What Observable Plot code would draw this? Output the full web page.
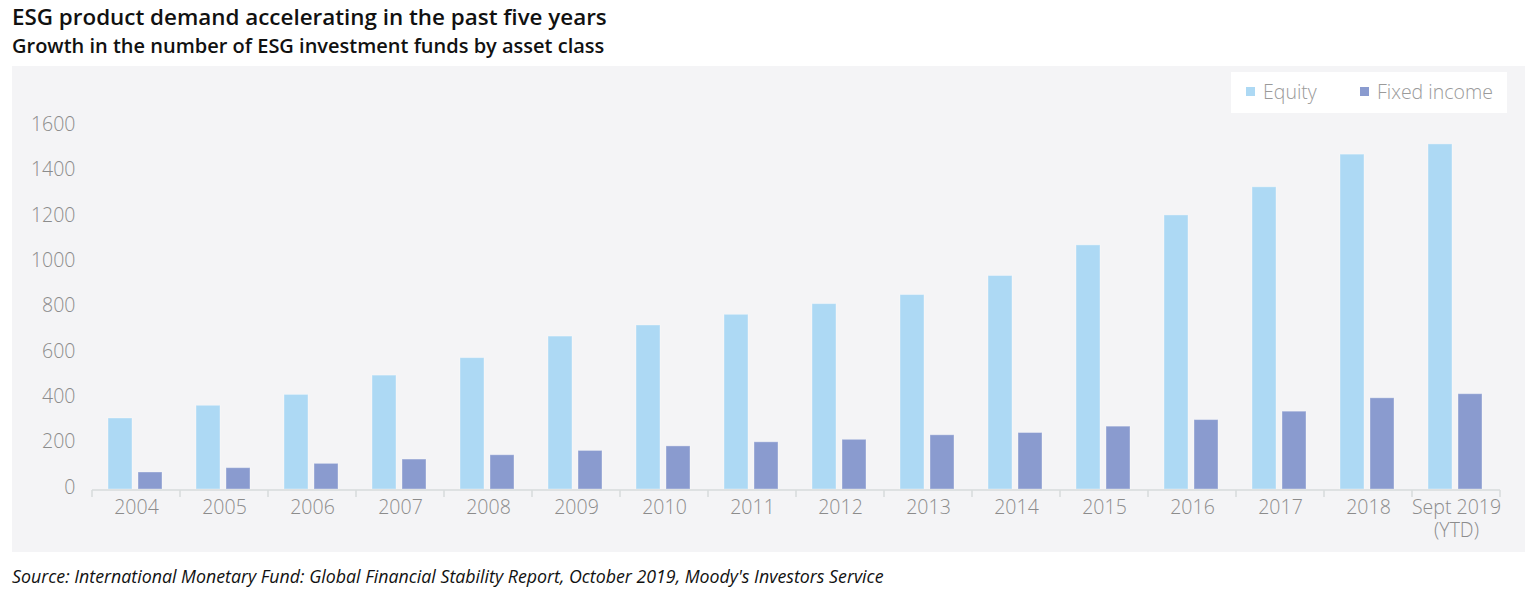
<!DOCTYPE html>
<html>
<head>
<meta charset="utf-8">
<script src="https://cdn.jsdelivr.net/npm/d3@7"></script>
<script src="https://cdn.jsdelivr.net/npm/@observablehq/plot@0.6"></script>
<style>
  body { margin: 0; background: #ffffff; font-family: "Open Sans", sans-serif; }
  #wrap { position: relative; width: 1537px; height: 595px; }
  #title { position: absolute; left: 12px; top: 1px; font-size: 22.4px; font-weight: 600; color: #111; white-space: nowrap; }
  #subtitle { position: absolute; left: 12px; top: 32px; font-size: 20px; font-weight: 600; color: #111; white-space: nowrap; }
  #chart { position: absolute; left: 12px; top: 66px; }
  #legend { position: absolute; left: 1231px; top: 72px; width: 276px; height: 41px; background: #ffffff; color: #9a9a9a; font-size: 19.5px; font-weight: 300; }
  #legend .item { position: absolute; top: 6px; white-space: nowrap; }
  #legend .sw { display: inline-block; width: 9px; height: 9px; margin-right: 8px; vertical-align: 3px; }
  #source { position: absolute; left: 12px; top: 564px; font-size: 17.8px; font-style: italic; color: #111; white-space: nowrap; }
</style>
</head>
<body>
<div id="wrap">
  <div id="title">ESG product demand accelerating in the past five years</div>
  <div id="subtitle">Growth in the number of ESG investment funds by asset class</div>
  <div id="chart"></div>
  <div id="legend"></div>
  <div id="source">Source: International Monetary Fund: Global Financial Stability Report, October 2019, Moody's Investors Service</div>
</div>
<script>
const years = ["2004", "2005", "2006", "2007", "2008", "2009", "2010", "2011", "2012", "2013", "2014", "2015", "2016", "2017", "2018", "Sept 2019\n(YTD)"];
const equity = [313, 369, 417, 502, 579, 674, 723, 770, 817, 857, 941, 1076, 1208, 1332, 1476, 1521];
const fixedIncome = [75, 94, 113, 132, 151, 170, 190, 208, 219, 239, 249, 277, 306, 343, 402, 420];
const yTicks = [0, 200, 400, 600, 800, 1000, 1200, 1400, 1600];
const seriesNames = ["Equity", "Fixed income"];
const seriesColors = ["#add9f4", "#8a9bcf"];

const data = years.map((year, i) => ({year, equity: equity[i], fixed: fixedIncome[i]}));

const boundaryTicks = (index, scales, values, dimensions) => {
  const x = scales.x, y = scales.y;
  const dom = x.domain();
  const bw = x.bandwidth ? x.bandwidth() : (x(dom[1]) - x(dom[0]));
  const y0 = y(0);
  const g = d3.create("svg:g");
  const left = x(dom[0]), right = x(dom[dom.length - 1]) + bw;
  g.append("line").attr("x1", left).attr("x2", right).attr("y1", y0 + 1).attr("y2", y0 + 1)
    .attr("stroke", "#d7dbdb").attr("stroke-width", 1.5);
  const edges = dom.map(d => x(d)).concat([right]);
  for (const e of edges) {
    g.append("line").attr("x1", e).attr("x2", e).attr("y1", y0 + 1).attr("y2", y0 + 8)
      .attr("stroke", "#d7dbdb").attr("stroke-width", 1.5);
  }
  return g.node();
};

const plot = Plot.plot({
  width: 1513,
  height: 486,
  marginTop: 60,
  marginBottom: 63,
  marginLeft: 78,
  marginRight: 24,
  style: { background: "#f4f4f6", fontFamily: "Open Sans, sans-serif", fontSize: "19.5px", fontWeight: 300, color: "#8c8c8c" },
  x: { domain: years, padding: 0, label: null },
  y: { domain: [0, 1600], label: null },
  marks: [
    Plot.axisY({ ticks: yTicks, tickSize: 0, tickPadding: 15, dy: -2, tickFormat: d => String(d), label: null, fill: "#8c8c8c" }),
    Plot.axisX({ tickSize: 0, tickPadding: 9, lineHeight: 1.15, label: null, fill: "#8c8c8c" }),
    Plot.barY(data, { x: "year", y: "equity", fill: seriesColors[0], stroke: "#ffffff", strokeOpacity: 0.35, strokeWidth: 1, insetLeft: 16, insetRight: 48 }),
    Plot.barY(data, { x: "year", y: "fixed", fill: seriesColors[1], stroke: "#ffffff", strokeOpacity: 0.35, strokeWidth: 1, insetLeft: 46, insetRight: 18 }),
    boundaryTicks
  ]
});
document.getElementById("chart").appendChild(plot);

const legend = document.getElementById("legend");
const lefts = [15, 129];
seriesNames.forEach((name, i) => {
  const item = document.createElement("div");
  item.className = "item";
  item.style.left = lefts[i] + "px";
  item.innerHTML = `<span class="sw" style="background:${seriesColors[i]}"></span>${name}`;
  legend.appendChild(item);
});
</script>
</body>
</html>
